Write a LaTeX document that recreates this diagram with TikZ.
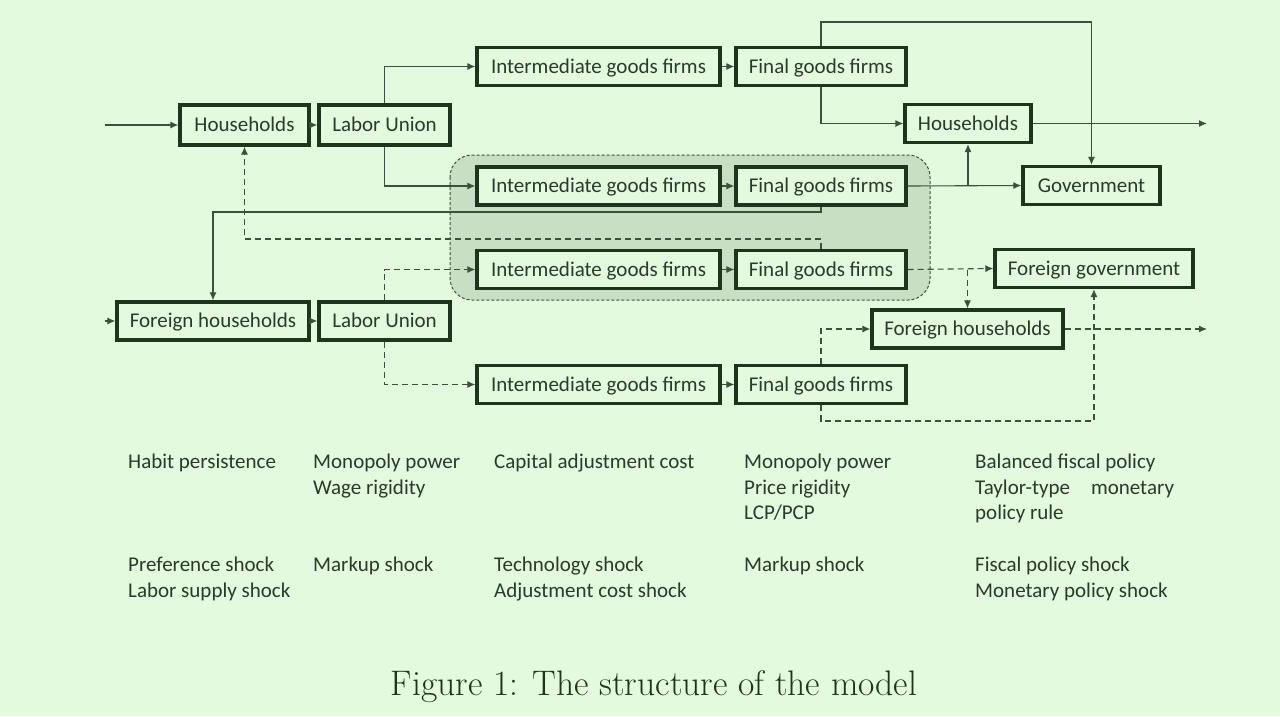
\documentclass[tikz,border=0pt]{standalone}
\usepackage{fontspec}
\newfontfamily\boxfont{Carlito}
\usetikzlibrary{arrows.meta}
\definecolor{bg}{HTML}{E4FADF}
\definecolor{shade}{HTML}{C8DFC3}
\definecolor{edge}{HTML}{1D351D}
\definecolor{ink}{HTML}{2B3A2B}
\definecolor{wire}{HTML}{3F4F3F}
\begin{document}
\begin{tikzpicture}[x=1pt,y=-1pt,
box/.style={draw=edge,line width=3.3pt,fill=bg,text=ink,inner sep=0pt,minimum height=38pt,text height=17pt,text depth=3.5pt,font=\boxfont\fontsize{21}{25}\selectfont},
igf/.style={box,minimum width=243pt},
fgf/.style={box,minimum width=170pt},
flow/.style={draw=wire,line width=1.1pt,-{Latex[length=8pt,width=7pt]}},
dflow/.style={flow,dash pattern=on 6pt off 4pt},
note/.style={anchor=north west,inner sep=0pt,align=left,text=ink,font=\boxfont\fontsize{21}{25.5}\selectfont}]
\fill[bg] (0,0) rectangle (1280,716);
\draw[fill=shade,draw=wire,dash pattern=on 3pt off 2pt,line width=1pt,rounded corners=22pt] (450,155) rectangle (930,300);
\path (105,125) coordinate (inH) (105,321) coordinate (inF) (1207,123.5) coordinate (outH) (1207,329) coordinate (outF)
(0,22) coordinate (top) (0,212) coordinate (cross) (0,239) coordinate (back) (0,421) coordinate (bot);
\node[box,minimum width=129pt,minimum height=40pt] (HH) at (244.5,125) {Households};
\node[box,minimum width=131pt,minimum height=40pt] (LU) at (384.5,125) {Labor Union};
\node[igf] (IGa) at (598.5,66.5) {Intermediate goods firms};
\node[fgf] (FGa) at (821,66.5) {Final goods firms};
\node[igf] (IGb) at (598.5,186) {Intermediate goods firms};
\node[fgf] (FGb) at (821,186) {Final goods firms};
\node[igf] (IGc) at (598.5,269.5) {Intermediate goods firms};
\node[fgf] (FGc) at (821,269.5) {Final goods firms};
\node[igf] (IGd) at (598.5,384.5) {Intermediate goods firms};
\node[fgf] (FGd) at (821,384.5) {Final goods firms};
\node[box,minimum width=126pt] (HHr) at (968,123.5) {Households};
\node[box,minimum width=137pt] (GOV) at (1091.5,185.5) {Government};
\node[box,minimum width=198pt] (FGOV) at (1094,268.5) {Foreign government};
\node[box,minimum width=192pt] (FHH) at (213,321) {Foreign households};
\node[box,minimum width=131pt] (LUf) at (384.5,321) {Labor Union};
\node[box,minimum width=191pt] (FHHr) at (967.5,329) {Foreign households};
\draw[flow] (inH)--(HH.west);
\draw[flow] (HH)--(LU);
\draw[flow] (LU.north) |- (IGa.west);
\draw[flow] (LU.south) |- (IGb.west);
\draw[flow] (IGa)--(FGa);
\draw[flow] (IGb)--(FGb);
\draw[flow] (IGc)--(FGc);
\draw[flow] (IGd)--(FGd);
\draw[flow] (FGa.north) |- (top -| GOV) -- (GOV.north);
\draw[flow] (FGa.south) |- (HHr.west);
\draw[flow] (HHr.east)--(outH);
\draw[flow] (FGb.east)--(GOV.west);
\draw[flow] (HHr.south |- FGb.east)--(HHr.south);
\draw[flow] (FGb.south) |- (cross -| FHH.north)--(FHH.north);
\draw[flow] (inF)--(FHH.west);
\draw[flow] (FHH)--(LUf);
\draw[dflow] (FGc.north) |- (back -| HH.south)--(HH.south);
\draw[dflow] (LUf.north) |- (IGc.west);
\draw[dflow] (LUf.south) |- (IGd.west);
\draw[dflow] (FGc.east)--(FGOV.west);
\draw[dflow] (FHHr.north |- FGc.east)--(FHHr.north);
\draw[dflow] (FGd.north) |- (FHHr.west);
\draw[dflow] (FGd.south) |- (bot -| FGOV.south)--(FGOV.south);
\draw[dflow] (FHHr.east)--(outF);
\node[note] (n1) at (128,454) {Habit persistence};
\node[note] (n2) at (313,454) {Monopoly power\\Wage rigidity};
\node[note] (n3) at (494,454) {Capital adjustment cost};
\node[note] (n4) at (744,454) {Monopoly power\\Price rigidity\\LCP/PCP};
\node[note] (n5) at (975,454) {Balanced fiscal policy\\Taylor-type\quad monetary\\policy rule};
\node[note] (s1) at (128,557) {Preference shock\\Labor supply shock};
\node[note] (s2) at (313,557) {Markup shock};
\node[note] (s3) at (494,557) {Technology shock\\Adjustment cost shock};
\node[note] (s4) at (744,557) {Markup shock};
\node[note] (s5) at (975,557) {Fiscal policy shock\\Monetary policy shock};
\node[anchor=base,text=edge,font=\fontsize{35.5}{42}\selectfont] (cap) at (654,695) {Figure 1: The structure of the model};
\end{tikzpicture}
\end{document}
